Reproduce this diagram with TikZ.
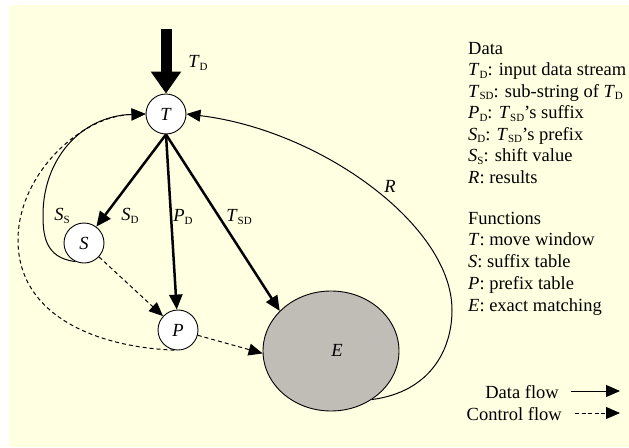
\documentclass[tikz,border=0pt]{standalone}
\usepackage{fontspec}
\setmainfont{Liberation Serif}
\usetikzlibrary{arrows.meta,shapes.geometric}
\definecolor{bgy}{RGB}{255,255,225}
\definecolor{egray}{RGB}{192,188,182}
\newcommand\sbx[1]{\raisebox{-2.5pt}{\fontsize{11}{11}\selectfont #1}}
\newcommand\vr[2]{\textit{#1}\sbx{#2}}
\begin{document}
\begin{tikzpicture}[x=1pt,y=-1pt,
  font=\fontsize{18.5}{21.6}\selectfont,
  fn/.style={circle,draw,line width=0.9pt,fill=white,minimum size=40pt,inner sep=0pt},
  datarr/.style={line width=2.5pt,-{Triangle[length=15pt,width=13pt]}},
  ctrl/.style={line width=1pt,dash pattern=on 4pt off 3pt,-{Triangle[length=14pt,width=12pt]}},
  thinarr/.style={line width=1pt,-{Triangle[length=14pt,width=12pt]}},
  lbl/.style={inner sep=0pt},
  leg/.style={anchor=base west,inner sep=0pt}]
\useasboundingbox (0,0) rectangle (629,447);
\fill[bgy] (9,5) rectangle (629,447);
% function nodes
\node[fn] (T) at (166,114) {\textit{T}};
\node[fn] (S) at (84,243) {\textit{S}};
\node[fn] (P) at (178,330) {\textit{P}};
\node[ellipse,draw,line width=0.9pt,fill=egray,minimum width=136pt,minimum height=120pt,inner sep=0pt] (E) at (331,351) {};
\node[lbl] (Elab) at (337,350) {\textit{E}};
% input stream
\coordinate (in) at (166,29);
\draw[line width=11pt,-{Triangle[length=22pt,width=29pt]}] (in) -- (T.north);
\node[lbl] (lTD) at (198,63) {\vr{T}{D}};
% data flows
\draw[datarr] (T.south) -- (S);
\draw[datarr] (T.south) -- (P);
\draw[datarr] (T.south) -- (E.142);
\node[lbl] (lSD) at (130,216) {\vr{S}{D}};
\node[lbl] (lPD) at (183,217) {\vr{P}{D}};
\node[lbl] (lTSD) at (239,217) {\vr{T}{SD}};
% shift value loop
\draw[thinarr] (S.245) .. controls (45,258) and (43,235) .. (43,215) .. controls (43,160) and (80,116) .. (T.west);
\node[lbl] (lSS) at (62,216) {\vr{S}{S}};
% control flows
\draw[ctrl] (S) -- (P);
\draw[ctrl] (P.-15) -- (E.182);
\draw[ctrl] (P.-100) .. controls (95,347) and (18,315) .. (18,240) .. controls (18,175) and (80,116) .. (T.west);
% results
\draw[thinarr] (E.-50) .. controls (430,392) and (452,350) .. (452,310) .. controls (452,225) and (320,130) .. (T.east);
\node[lbl] (lR) at (390,186) {\textit{R}};
% legend
\node[leg] (d0) at (468,54) {Data};
\node[leg] (d1) at (468,75.5) {\vr{T}{D}: input data stream};
\node[leg] (d2) at (468,97) {\vr{T}{SD}: sub-string of \vr{T}{D}};
\node[leg] (d3) at (468,118.5) {\vr{P}{D}: \vr{T}{SD}'s suffix};
\node[leg] (d4) at (468,140) {\vr{S}{D}: \vr{T}{SD}'s prefix};
\node[leg] (d5) at (468,161.5) {\vr{S}{S}: shift value};
\node[leg] (d6) at (468,183) {\textit{R}: results};
\node[leg] (f0) at (468,224) {Functions};
\node[leg] (f1) at (468,245.75) {\textit{T}: move window};
\node[leg] (f2) at (468,267.5) {\textit{S}: suffix table};
\node[leg] (f3) at (468,289.25) {\textit{P}: prefix table};
\node[leg] (f4) at (468,311) {\textit{E}: exact matching};
\node[anchor=base east,inner sep=0pt] (ldf) at (559,398) {Data flow};
\node[anchor=base east,inner sep=0pt] (lcf) at (562,420) {Control flow};
\coordinate (da) at (571,391);
\coordinate (db) at (620,391);
\coordinate (ca) at (575,413);
\coordinate (cb) at (620,413);
\draw[thinarr] (da) -- (db);
\draw[line width=1pt,dash pattern=on 4pt off 2.5pt,-{Triangle[length=14pt,width=12pt]}] (ca) -- (cb);
\end{tikzpicture}
\end{document}
